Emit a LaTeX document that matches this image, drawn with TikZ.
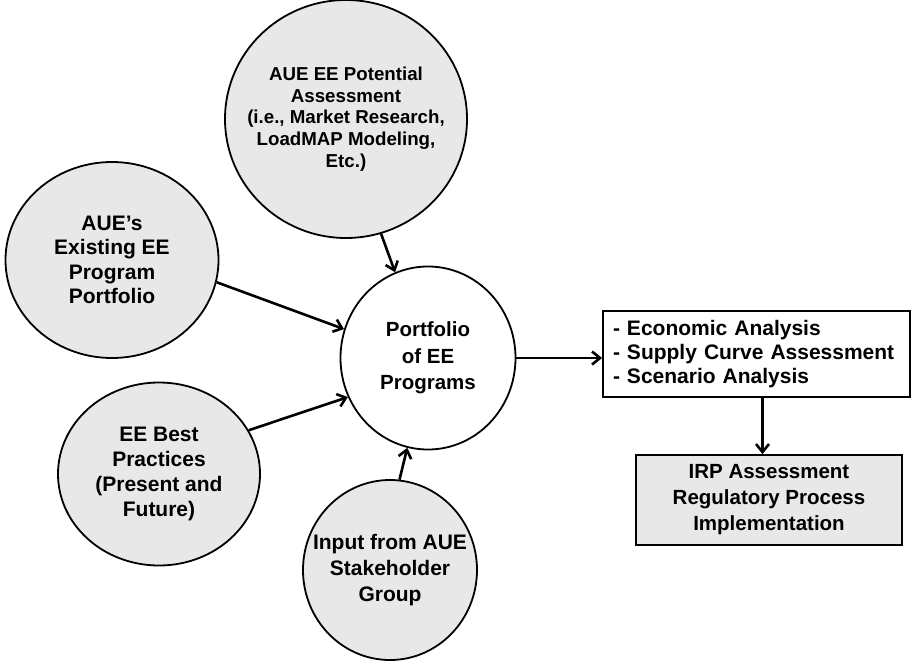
\documentclass[tikz,border=0pt]{standalone}
\usepackage{fontspec}
\setmainfont{Liberation Sans}
\usetikzlibrary{shapes.geometric,arrows.meta}

\tikzset{
  speck/.style={ellipse, draw, line width=1.8pt, fill=black!9, inner sep=-30pt, align=center},
  conn/.style={line width=2.6pt, -{Straight Barb[length=8pt,width=13pt]}}
}

\begin{document}
\begin{tikzpicture}[x=1pt,y=1pt,yscale=-1]
        \useasboundingbox (0,0) rectangle (912,661);

        %Shape: Ellipse [id:pot]
        \node (pot) at (346,119) [speck, minimum width=242pt, minimum height=238pt, font={\fontsize{18.7}{21.7}\selectfont\bfseries}]
          {AUE EE Potential\\Assessment\\(i.e., Market Research,\\LoadMAP Modeling,\\Etc.)};
        %Shape: Ellipse [id:exist]
        \node (exist) at (112,260) [speck, minimum width=213pt, minimum height=196pt, font={\fontsize{21}{24.5}\selectfont\bfseries}]
          {AUE's\\Existing EE\\Program\\Portfolio};
        %Shape: Ellipse [id:best]
        \node (best) at (159,474) [speck, minimum width=202pt, minimum height=183pt, font={\fontsize{21}{25}\selectfont\bfseries}]
          {EE Best\\Practices\\(Present and\\Future)};
        %Shape: Ellipse [id:input]
        \node (input) at (390,570) [speck, minimum width=174pt, minimum height=180pt, font={\fontsize{21}{26}\selectfont\bfseries}]
          {Input from AUE\\Stakeholder\\Group};
        %Shape: Ellipse [id:portf]
        \node (portf) at (428,358) [speck, fill=white, minimum width=175pt, minimum height=183pt, font={\fontsize{20.5}{26.7}\selectfont\bfseries}]
          {Portfolio\\of EE\\Programs};

        %Shape: Rectangle [id:anal]
        \node (anal) at (756.5,354) [draw, line width=1.8pt, fill=white, minimum height=86pt, text width=287pt, inner xsep=10pt, align=left, font={\fontsize{21}{24}\selectfont\bfseries}]
          {- Economic Analysis\\- Supply Curve Assessment\\- Scenario Analysis};
        %Shape: Rectangle [id:irp]
        \node (irp) at (769,500) [draw, line width=1.8pt, fill=black!9, minimum width=266pt, minimum height=90pt, align=center, font={\fontsize{20.5}{26}\selectfont\bfseries}]
          {IRP Assessment\\Regulatory Process\\Implementation};

        %Straight Lines
        \draw [conn] (pot.-73) -- (portf.111);
        \draw [conn] (exist.-12) -- (portf.161);
        \draw [conn] (best.26) -- (portf.206);
        \draw [conn] (input.84) -- (portf.257);
        \draw [conn] (portf.east) -- (portf.east -| anal.west);
        \draw [conn] ([xshift=6pt]anal.south) -- ([xshift=6pt]anal.south |- irp.north);

\end{tikzpicture}
\end{document}
